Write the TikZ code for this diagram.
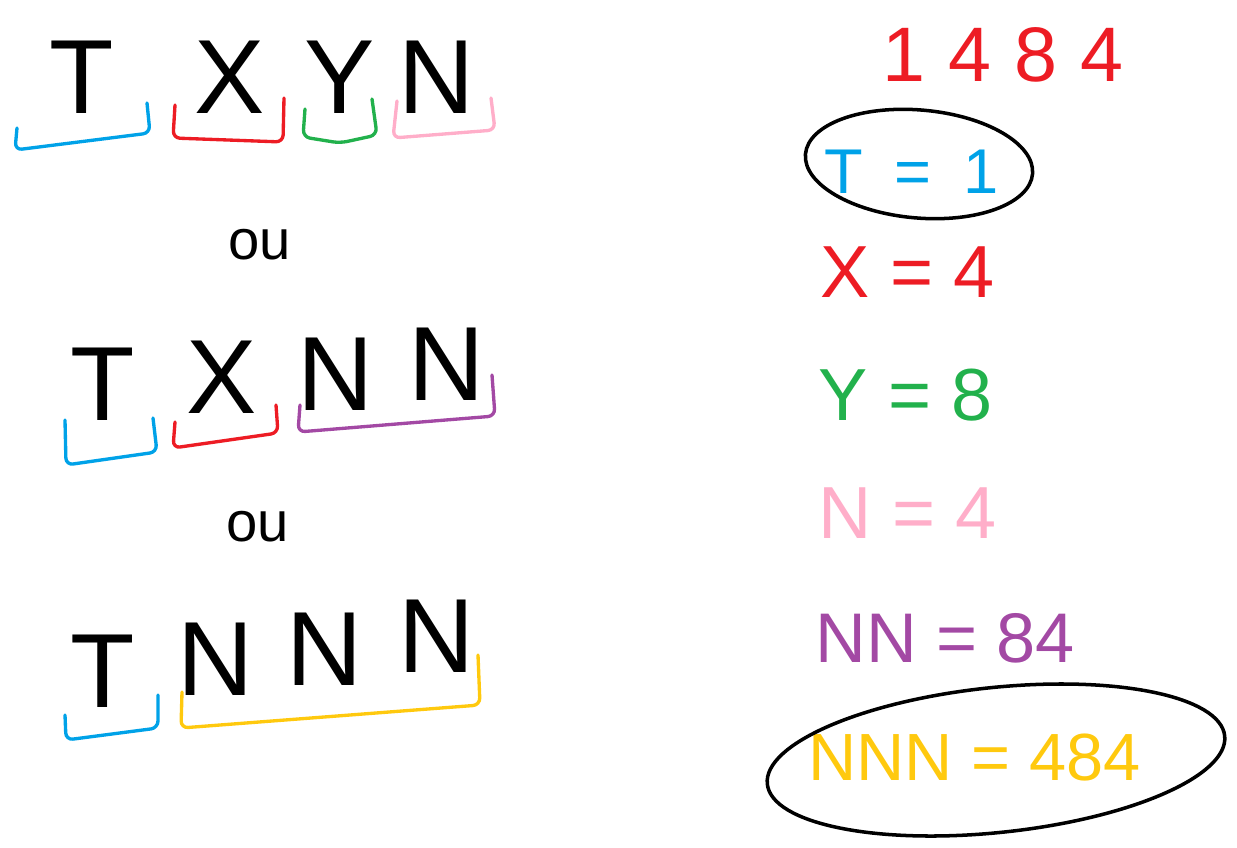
\documentclass[tikz,border=0pt]{standalone}
\usepackage{fontspec}
\setmainfont{Liberation Sans}
\usepackage{tikz}
\usetikzlibrary{positioning, shapes.geometric}

\definecolor{pblue}{RGB}{0,162,232}
\definecolor{pred}{RGB}{237,28,36}
\definecolor{pgreen}{RGB}{34,177,76}
\definecolor{ppink}{RGB}{255,174,201}
\definecolor{ppurple}{RGB}{163,73,164}
\definecolor{pyellow}{RGB}{255,201,14}

\begin{document}
\begin{tikzpicture}[x=0.02cm, y=-0.02cm,
    letter/.style={anchor=base, inner sep=0pt, font=\fontsize{60}{60}\selectfont},
    ou/.style={inner sep=0pt, font=\fontsize{32}{32}\selectfont},
    eq/.style={anchor=base west, inner sep=0pt, font=\fontsize{42}{42}\selectfont},
    brace/.style={line width=1.9pt, line cap=round, line join=round, rounded corners=4pt},
    loop/.style={draw, ellipse, line width=2pt, inner sep=0pt}]

    \useasboundingbox (0,0) rectangle (1237,848);

    % ===== premiere ligne : T X Y N =====
    \node[letter] (t1) at (82,113) {T};
    \node[letter] (x1) at (230,113) {X};
    \node[letter] (y1) at (340,113) {Y};
    \node[letter] (n1) at (437,113) {N};

    \draw[brace, pblue] (17,128) -- (15,150) -- (150,133) -- (147,103);
    \draw[brace, pred] (175,105) -- (173,138) -- (283,142) -- (284,98);
    \draw[brace, pgreen] (305,109) -- (303,137) -- (340,143) -- (377,135) -- (372,99);
    \draw[brace, ppink] (397,101) -- (393,138) -- (495,130) -- (491,98);

    \node[ou] (ou1) at (260,245) {ou};

    % ===== deuxieme ligne : T X N N =====
    \node[letter] (t2) at (103,420) {T};
    \node[letter] (x2) at (222,413) {X};
    \node[letter] (n2a) at (336,410) {N};
    \node[letter] (n2b) at (447,400) {N};

    \draw[brace, pblue] (65,420) -- (66,465) -- (157,452) -- (153,418);
    \draw[brace, pred] (175,422) -- (173,448) -- (278,433) -- (276,405);
    \draw[brace, ppurple] (300,405) -- (298,432) -- (495,416) -- (492,375);

    \node[ou] (ou2) at (258,527) {ou};

    % ===== troisieme ligne : T N N N =====
    \node[letter] (t3) at (103,707) {T};
    \node[letter] (n3a) at (216,695) {N};
    \node[letter] (n3b) at (325,685) {N};
    \node[letter] (n3c) at (437,672) {N};

    \draw[brace, pblue] (65,715) -- (66,740) -- (158,728) -- (158,695);
    \draw[brace, pyellow] (182,692) -- (181,728) -- (480,705) -- (478,655);

    % ===== colonne de droite =====
    \node[eq, pred, font=\fontsize{44}{44}\selectfont] (num) at (882,82)
        {1\hspace{0.3em}4\hspace{0.3em}8\hspace{0.3em}4};

    \node[eq, pblue, font=\fontsize{36}{36}\selectfont] (eqt) at (824,193) {T\hspace{0.5em}=\hspace{0.5em}1};
    \node[loop, rotate=-5, minimum width=4.56cm, minimum height=2.16cm] (loopt) at (919,164) {};

    \node[eq, pred] (eqx) at (820,297) {X = 4};
    \node[eq, pgreen] (eqy) at (818,420) {Y = 8};
    \node[eq, ppink] (eqn) at (818,538) {N = 4};
    \node[eq, ppurple, font=\fontsize{40}{40}\selectfont] (eqnn) at (815,662) {NN = 84};
    \node[eq, pyellow, font=\fontsize{38}{38}\selectfont] (eqnnn) at (808,780) {NNN = 484};
    \node[loop, rotate=6, minimum width=9.2cm, minimum height=2.9cm] (loopnnn) at (996,760) {};
\end{tikzpicture}
\end{document}
